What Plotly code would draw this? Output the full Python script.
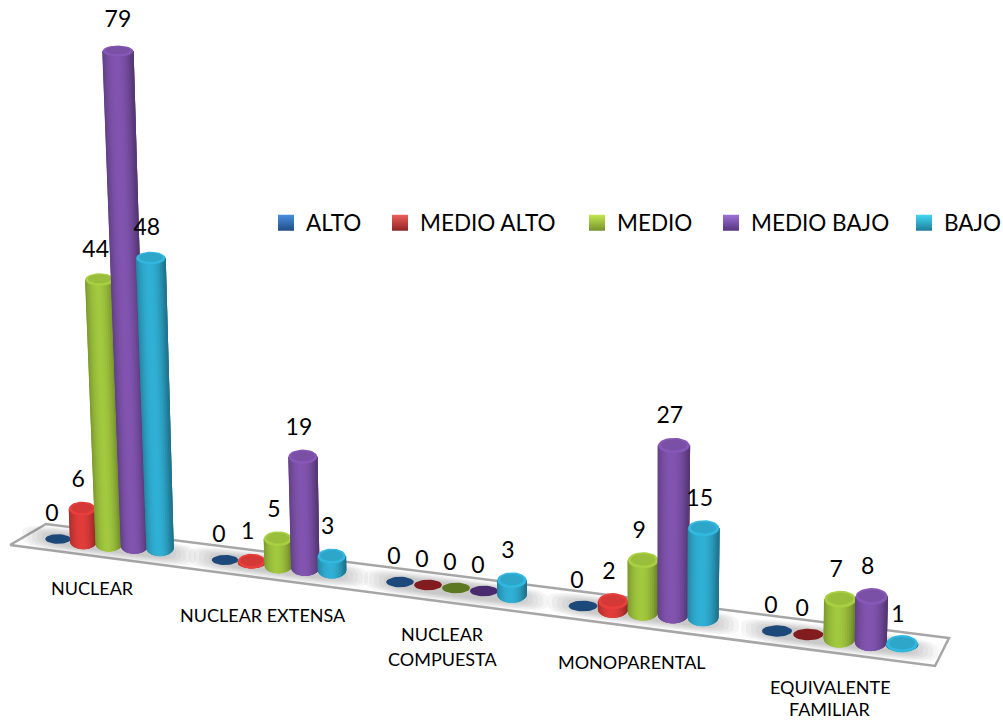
import math
import plotly.graph_objects as go

# ---------- data ----------
categories = [["NUCLEAR"], ["NUCLEAR EXTENSA"], ["NUCLEAR", "COMPUESTA"], ["MONOPARENTAL"], ["EQUIVALENTE", "FAMILIAR"]]
series_names = ["ALTO", "MEDIO ALTO", "MEDIO", "MEDIO BAJO", "BAJO"]
alto = [0, 0, 0, 0, 0]
medio_alto = [6, 1, 0, 2, 0]
medio = [44, 5, 0, 9, 7]
medio_bajo = [79, 19, 0, 27, 8]
bajo = [48, 3, 3, 15, 1]
series_values = [alto, medio_alto, medio, medio_bajo, bajo]

# ---------- styling / perspective ----------
body_colors = [(42, 101, 168), (208, 56, 54), (150, 186, 58), (120, 78, 163), (45, 163, 198)]
zero_colors = [(29, 72, 122), (130, 28, 30), (92, 120, 32), (74, 43, 112), (29, 110, 135)]
legend_tops = ["#4a90e0", "#f0605c", "#c4e850", "#a070d8", "#40d8f4"]
legend_bots = ["#1f4f85", "#8f2422", "#76942c", "#553580", "#1f7f9a"]
group_x = [(58, 160), (225, 332), (400, 512), (583, 703), (777, 902)]
group_y = [(539, 548), (560, 570), (582, 594), (606, 617), (631, 645)]
cat_label_xy = [[(92, 588)], [(263, 615)], [(442, 634), (442, 659)], [(632, 662)], [(830, 687), (830, 709)]]
legend_text_x = [306, 420, 617, 751, 944]
# vertical scale of the value axis in the picture (value -> pixels)
scale_values = [0, 1, 15, 19, 27, 44, 48, 79]
scale_pixels = [0, 1.25, 88.75, 110.75, 168.75, 264, 290, 494.75]
FONT = "Lato"
N_STRIPS = 20


def rgb(c, f=1.0):
    return "rgb(%d,%d,%d)" % tuple(min(255, max(0, round(v * f))) for v in c)


def height(v):
    for i in range(len(scale_values) - 1):
        if scale_values[i] <= v <= scale_values[i + 1]:
            if scale_values[i + 1] <= 15:
                return max(0.0, 6.25 * v - 5)
            t = (v - scale_values[i]) / (scale_values[i + 1] - scale_values[i])
            return scale_pixels[i] + t * (scale_pixels[i + 1] - scale_pixels[i])
    return scale_pixels[-1]


def project(g, s, v):
    """Map category, series and value onto the tilted picture plane."""
    t = s / 4
    bx = group_x[g][0] + (group_x[g][1] - group_x[g][0]) * t
    by = group_y[g][0] + (group_y[g][1] - group_y[g][0]) * t
    h = height(v)
    rx = 13.2 + 3.0 * bx / 900
    tx = bx + h * (bx - 600) * 7.2e-5
    ty = by - h
    rxt = rx * (1 + h * 0.0003)
    return bx, by, h, rx, tx, ty, rxt


def ellipse(cx, cy, rx, ry, n=36):
    xs = [cx + rx * math.cos(2 * math.pi * i / n) for i in range(n + 1)]
    ys = [cy + ry * math.sin(2 * math.pi * i / n) for i in range(n + 1)]
    return xs, ys


def add_poly(fig, xs, ys, color):
    fig.add_trace(go.Scatter(x=xs, y=ys, mode="lines", fill="toself", fillcolor=color,
                             line=dict(width=0), hoverinfo="skip", showlegend=False))


fig = go.Figure()

# floor
floor_x = [10, 46, 949, 935, 10]
floor_y = [545, 524, 638, 666, 545]
fig.add_trace(go.Scatter(x=floor_x, y=floor_y, mode="lines", fill="toself", fillcolor="white",
                         line=dict(color="#a6a6a6", width=2.5), hoverinfo="skip", showlegend=False))

# soft shadows on the floor
for g in range(5):
    x0, x1 = group_x[g]
    y0, y1 = group_y[g]
    cx, cy = (x0 + x1) / 2, (y0 + y1) / 2 + 2
    half = (x1 - x0) / 2
    for k in range(6):
        a = half + 36 - k * 5
        b = 12.5 - k * 1.2
        n = 48
        xs, ys = [], []
        for i in range(n + 1):
            th = 2 * math.pi * i / n
            c, sn = math.cos(th), math.sin(th)
            px = a * math.copysign(abs(c) ** 0.5, c)
            py = b * math.copysign(abs(sn) ** 0.5, sn)
            xs.append(cx + px)
            ys.append(cy + px * 0.125 + py)
        add_poly(fig, xs, ys, "rgba(90,90,90,0.06)")

# cylinders
step = math.pi / N_STRIPS
for s, vals in enumerate(series_values):
    base = body_colors[s]
    strips = [([], []) for _ in range(N_STRIPS)]
    for g, v in enumerate(vals):
        bx, by, h, rx, tx, ty, rxt = project(g, s, v)
        if v == 0:
            continue
        ryb = rx * 0.6 if v > 1 else rx * 0.42
        for i in range(N_STRIPS):
            angles = [-math.pi / 2 + step * (i + j) for j in range(4) if i + j <= N_STRIPS]
            xs = [bx + rx * math.sin(a) for a in angles]
            ys = [by + ryb * math.cos(a) for a in angles]
            u1, u2 = math.sin(angles[0]), math.sin(angles[-1])
            xs += [tx + rxt * u2, tx + rxt * u1, xs[0], None]
            ys += [ty, ty, ys[0], None]
            strips[i][0].extend(xs)
            strips[i][1].extend(ys)
    for i in range(N_STRIPS):
        if not strips[i][0]:
            continue
        um = math.sin(-math.pi / 2 + step * (i + 0.5))
        f = 0.72 + 0.36 * max(0.0, math.cos(min(1.0, abs(um + 0.12)) * math.pi / 2)) ** 0.8
        add_poly(fig, strips[i][0], strips[i][1], rgb(base, f))
    # caps and zero discs
    for layer, factor in ((0, 1.12), (1, 1.02)):
        xs_all, ys_all = [], []
        for g, v in enumerate(vals):
            if v == 0:
                continue
            bx, by, h, rx, tx, ty, rxt = project(g, s, v)
            ry = max(4.2, 7.5 * rxt / 14 - h * 0.006)
            if layer == 0:
                xs, ys = ellipse(tx, ty, rxt * 0.98, ry)
            else:
                xs, ys = ellipse(tx, ty - 0.6, rxt * 0.8, ry * 0.72)
            xs_all += xs + [None]
            ys_all += ys + [None]
        if xs_all:
            add_poly(fig, xs_all, ys_all, rgb(base, factor))
    xs_all, ys_all = [], []
    for g, v in enumerate(vals):
        if v == 0:
            bx, by, h, rx, tx, ty, rxt = project(g, s, v)
            xs, ys = ellipse(bx, by, rx * 0.95, 0.36 * rx)
            xs_all += xs + [None]
            ys_all += ys + [None]
    if xs_all:
        add_poly(fig, xs_all, ys_all, rgb(zero_colors[s]))

# data labels
for s, vals in enumerate(series_values):
    lx, ly, lt = [], [], []
    for g, v in enumerate(vals):
        bx, by, h, rx, tx, ty, rxt = project(g, s, v)
        lx.append(tx - (6 if v == 0 else 4) + 4 * max(0.0, h - 300) / 195)
        ly.append(ty - (24 if v == 0 else 28) - 2 * max(0.0, h - 200) / 295)
        lt.append(str(v))
    fig.add_trace(go.Scatter(x=lx, y=ly, text=lt, mode="text", textposition="middle center",
                             textfont=dict(family=FONT, size=23, color="black"),
                             hoverinfo="skip", showlegend=False))

# legend entries (one small legend per series, placed like the reference)
layout_legends = {}
for s, name in enumerate(series_names):
    key = "legend" if s == 0 else "legend%d" % (s + 1)
    fig.add_trace(go.Scatter(x=[-100], y=[-100], mode="markers", name=name, legend=key, showlegend=True,
                             marker=dict(symbol="square", size=16, color=legend_tops[s],
                                         gradient=dict(type="vertical", color=legend_bots[s]),
                                         line=dict(width=0))))
    layout_legends[key] = dict(x=(legend_text_x[s] - 40) / 1003, y=1 - 223 / 721, xanchor="left", yanchor="middle",
                               orientation="v", bgcolor="rgba(0,0,0,0)", borderwidth=0,
                               font=dict(family=FONT, size=22.5, color="black"), tracegroupgap=0)

annotations = []
for lines, xys in zip(categories, cat_label_xy):
    for line, (ax, ay) in zip(lines, xys):
        annotations.append(dict(x=ax, y=ay, text=line, xref="x", yref="y", showarrow=False,
                                xanchor="center", yanchor="middle",
                                font=dict(family=FONT, size=18, color="black")))

fig.update_layout(width=1003, height=721, margin=dict(l=0, r=0, t=0, b=0, autoexpand=False),
                  paper_bgcolor="white", plot_bgcolor="white",
                  xaxis=dict(range=[0, 1003], visible=False, fixedrange=True),
                  yaxis=dict(range=[721, 0], visible=False, fixedrange=True),
                  annotations=annotations, hovermode=False, **layout_legends)

fig.write_html("out.html", post_script="document.body.style.margin='0';document.body.style.overflow='hidden';",
               config={"displayModeBar": False})
